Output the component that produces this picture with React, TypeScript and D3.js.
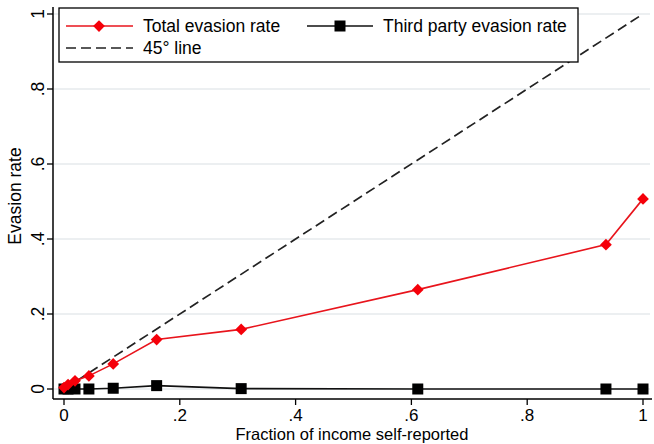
import React, { useRef, useEffect } from 'react';
import * as d3 from 'd3';

// fraction of income self-reported (x) for each bin
const selfReported = [0.0, 0.007, 0.019, 0.043, 0.085, 0.16, 0.306, 0.611, 0.936, 1.0];
// total evasion rate (red diamonds)
const totalEvasion = [0.004, 0.012, 0.022, 0.035, 0.067, 0.132, 0.159, 0.265, 0.385, 0.507];
// third party evasion rate (black squares)
const thirdPartyEvasion = [0.0, 0.0, 0.0, 0.0, 0.002, 0.009, 0.001, 0.0, 0.0, 0.0];

const xTicks = [0, 0.2, 0.4, 0.6, 0.8, 1];
const yTicks = [0, 0.2, 0.4, 0.6, 0.8, 1];
const fmt = (v: number) => (v === 0 ? '0' : v === 1 ? '1' : String(v).replace(/^0/, ''));

const FONT = '"Liberation Sans", Arial, sans-serif';
const FS = '17.5px';

export default function App() {
  const ref = useRef<SVGSVGElement>(null);

  useEffect(() => {
    const svg = d3.select(ref.current);
    svg.selectAll('*').remove();

    const W = 654, H = 444;
    const axisX = 53, axisY = 399;

    const x = d3.scaleLinear().domain([0, 1]).range([64, 643]);
    const y = d3.scaleLinear().domain([0, 1]).range([389, 14]);

    // gridlines
    svg.append('g')
      .selectAll('line')
      .data(yTicks)
      .enter()
      .append('line')
      .attr('x1', axisX + 1)
      .attr('x2', W - 4)
      .attr('y1', d => y(d))
      .attr('y2', d => y(d))
      .attr('stroke', '#e6eaec')
      .attr('stroke-width', 1.5);

    // 45 degree line
    svg.append('line')
      .attr('x1', x(0)).attr('y1', y(0))
      .attr('x2', x(1)).attr('y2', y(1))
      .attr('stroke', '#222')
      .attr('stroke-width', 1.7)
      .attr('stroke-dasharray', '10,5');

    const pts = (ys: number[]) => selfReported.map((v, i) => [x(v), y(ys[i])] as [number, number]);
    const line = d3.line();

    // third party series
    svg.append('path')
      .attr('d', line(pts(thirdPartyEvasion)))
      .attr('fill', 'none')
      .attr('stroke', '#111')
      .attr('stroke-width', 1.6);
    svg.append('g')
      .selectAll('rect')
      .data(pts(thirdPartyEvasion))
      .enter()
      .append('rect')
      .attr('x', d => d[0] - 5.5)
      .attr('y', d => d[1] - 5.5)
      .attr('width', 11)
      .attr('height', 11)
      .attr('fill', '#000');

    // total evasion series
    svg.append('path')
      .attr('d', line(pts(totalEvasion)))
      .attr('fill', 'none')
      .attr('stroke', '#e8141c')
      .attr('stroke-width', 1.6);
    const diamond = d3.symbol().type(d3.symbolDiamond2).size(88);
    svg.append('g')
      .selectAll('path')
      .data(pts(totalEvasion))
      .enter()
      .append('path')
      .attr('d', diamond() as string)
      .attr('transform', d => `translate(${d[0]},${d[1]})`)
      .attr('fill', '#f5000a');

    // axes
    svg.append('line')
      .attr('x1', axisX).attr('x2', axisX)
      .attr('y1', 7).attr('y2', axisY)
      .attr('stroke', '#000').attr('stroke-width', 1.5);
    svg.append('line')
      .attr('x1', axisX).attr('x2', W - 2)
      .attr('y1', axisY).attr('y2', axisY)
      .attr('stroke', '#000').attr('stroke-width', 1.5);

    const yt = svg.append('g').selectAll('g').data(yTicks).enter().append('g');
    yt.append('line')
      .attr('x1', axisX - 6).attr('x2', axisX)
      .attr('y1', d => y(d)).attr('y2', d => y(d))
      .attr('stroke', '#000').attr('stroke-width', 1.3);
    yt.append('text')
      .attr('transform', d => `translate(44,${y(d)}) rotate(-90)`)
      .attr('text-anchor', 'middle')
      .style('font-family', FONT)
      .style('font-size', FS)
      .text(d => fmt(d));

    const xt = svg.append('g').selectAll('g').data(xTicks).enter().append('g');
    xt.append('line')
      .attr('x1', d => x(d)).attr('x2', d => x(d))
      .attr('y1', axisY).attr('y2', axisY + 6)
      .attr('stroke', '#000').attr('stroke-width', 1.3);
    xt.append('text')
      .attr('x', d => x(d))
      .attr('y', 421)
      .attr('text-anchor', 'middle')
      .style('font-family', FONT)
      .style('font-size', '17px')
      .text(d => fmt(d));

    svg.append('text')
      .attr('x', 352).attr('y', 440)
      .attr('text-anchor', 'middle')
      .style('font-family', FONT)
      .style('font-size', '16.5px')
      .text('Fraction of income self-reported');
    svg.append('text')
      .attr('transform', 'translate(21,196) rotate(-90)')
      .attr('text-anchor', 'middle')
      .style('font-family', FONT)
      .style('font-size', FS)
      .text('Evasion rate');

    // legend
    const lg = svg.append('g');
    lg.append('rect')
      .attr('x', 59).attr('y', 8)
      .attr('width', 519).attr('height', 54)
      .attr('fill', '#fff')
      .attr('stroke', '#000')
      .attr('stroke-width', 1.3);

    const row1 = 26, row2 = 48;
    lg.append('line').attr('x1', 66).attr('x2', 133).attr('y1', row1).attr('y2', row1)
      .attr('stroke', '#e8141c').attr('stroke-width', 1.6);
    lg.append('path').attr('d', diamond() as string)
      .attr('transform', `translate(99,${row1})`).attr('fill', '#f5000a');
    lg.append('text').attr('x', 143).attr('y', row1 + 6)
      .style('font-family', FONT).style('font-size', FS).text('Total evasion rate');

    lg.append('line').attr('x1', 307).attr('x2', 373).attr('y1', row1).attr('y2', row1)
      .attr('stroke', '#111').attr('stroke-width', 1.6);
    lg.append('rect').attr('x', 334.5).attr('y', row1 - 5.5).attr('width', 11).attr('height', 11)
      .attr('fill', '#000');
    lg.append('text').attr('x', 383).attr('y', row1 + 6)
      .style('font-family', FONT).style('font-size', FS).text('Third party evasion rate');

    lg.append('line').attr('x1', 66).attr('x2', 133).attr('y1', row2).attr('y2', row2)
      .attr('stroke', '#222').attr('stroke-width', 1.7).attr('stroke-dasharray', '10,5');
    lg.append('text').attr('x', 143).attr('y', row2 + 6)
      .style('font-family', FONT).style('font-size', FS).text('45° line');

    svg.attr('width', W).attr('height', H);
  }, []);

  return (
    <div style={{ position: 'absolute', left: 0, top: 0 }}>
      <svg ref={ref} style={{ display: 'block', background: '#fff' }}></svg>
    </div>
  );
}
